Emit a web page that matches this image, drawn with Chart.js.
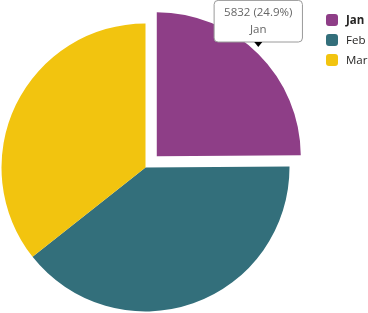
<!DOCTYPE html>
<html>
<head>
<meta charset="utf-8">
<script src="https://cdn.jsdelivr.net/npm/chart.js@4"></script>
<style>
  body { margin: 0; background: #fff; font-family: "Open Sans", sans-serif; }
  #wrap { position: relative; width: 368px; height: 313px; }
  #legend { position: absolute; left: 326px; top: 14px; }
  .item { position: relative; height: 20px; font-size: 11.5px; color: #252423; }
  .box { position: absolute; left: 0; top: 0; width: 12px; height: 12px; border-radius: 3px; }
  .txt { position: absolute; left: 20px; top: -2px; line-height: 16px; white-space: nowrap; }
</style>
</head>
<body>
<div id="wrap">
  <canvas id="pie" width="368" height="313"></canvas>
  <div id="legend"></div>
</div>
<script>
const months = ["Jan", "Feb", "Mar"];
const sales = [5832, 9240, 8350];
const colors = ["#8E3E87", "#336F7B", "#F2C40F"];
// chart.js moves an arc by offset/4, so 64 gives about 16px
const offsets = [64, 0, 0];

const total = sales.reduce((a, b) => a + b, 0);

Chart.Tooltip.positioners.outer = function (elements) {
  if (!elements.length) return false;
  const el = elements[0].element;
  const mid = (el.startAngle + el.endAngle) / 2;
  const circ = el.endAngle - el.startAngle;
  const off = (el.options.offset || 0) / 4;
  const shift = off * (2 - Math.sin(Math.min(Math.PI, circ)));
  const r = el.outerRadius + shift;
  return { x: el.x + Math.cos(mid) * r, y: el.y + Math.sin(mid) * r };
};

const blackCaret = {
  id: "blackCaret",
  afterDraw(chart) {
    const tip = chart.tooltip;
    if (!tip || !tip.opacity) return;
    const ctx = chart.ctx;
    const bottom = tip.y + tip.height;
    ctx.save();
    ctx.fillStyle = "#000";
    ctx.beginPath();
    ctx.moveTo(tip.caretX - 4, bottom);
    ctx.lineTo(tip.caretX + 4, bottom);
    ctx.lineTo(tip.caretX, bottom + 5);
    ctx.closePath();
    ctx.fill();
    ctx.restore();
  },
};

Chart.defaults.font.family = "'Open Sans', sans-serif";

const chart = new Chart(document.getElementById("pie"), {
  type: "pie",
  data: {
    labels: months,
    datasets: [
      {
        data: sales,
        backgroundColor: colors,
        borderWidth: 0,
        offset: offsets,
        hoverOffset: 0,
      },
    ],
  },
  options: {
    responsive: false,
    animation: false,
    radius: 144,
    layout: { padding: { left: 0, right: 77, top: 22, bottom: 0 } },
    events: [],
    plugins: {
      legend: { display: false },
      tooltip: {
        position: "outer",
        xAlign: "center",
        yAlign: "bottom",
        caretSize: 0,
        caretPadding: 12,
        backgroundColor: "#fff",
        borderColor: "#9a9a9a",
        borderWidth: 1,
        cornerRadius: 4,
        displayColors: false,
        bodyColor: "#666",
        bodyAlign: "center",
        bodyFont: { size: 11.5 },
        bodySpacing: 4,
        padding: { x: 10, y: 5 },
        callbacks: {
          title: () => "",
          label: (c) => {
            const pct = ((c.raw / total) * 100).toFixed(1);
            return [c.raw + " (" + pct + "%)", c.label];
          },
        },
      },
    },
  },
  plugins: [blackCaret],
});

chart.tooltip.setActiveElements([{ datasetIndex: 0, index: 0 }], { x: 0, y: 0 });
chart.update();

const legend = document.getElementById("legend");
months.forEach((m, i) => {
  const row = document.createElement("div");
  row.className = "item";
  row.innerHTML =
    '<span class="box" style="background:' + colors[i] + '"></span>' +
    '<span class="txt"' + (i === 0 ? ' style="font-weight:bold"' : "") + ">" + m + "</span>";
  legend.appendChild(row);
});
</script>
</body>
</html>
